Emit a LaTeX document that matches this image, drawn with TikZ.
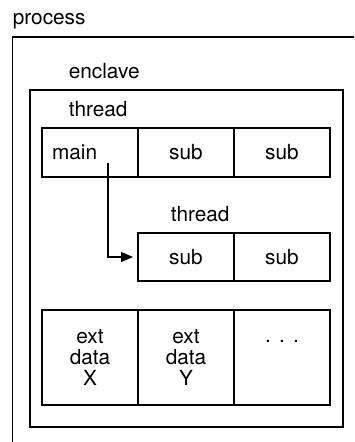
\documentclass[tikz,border=0pt]{standalone}
\usepackage{fontspec}
\setmainfont{TeX Gyre Heros}
\usetikzlibrary{arrows.meta, positioning}

\tikzset{
  cell/.style={draw, rectangle, outer sep=0pt, inner sep=0pt,
    minimum width=48pt, minimum height=24.5pt, align=center},
  tall/.style={cell, minimum height=47.5pt},
  tag/.style={anchor=base west, inner sep=0pt},
}

\begin{document}
\begin{tikzpicture}[x=0.5pt, y=-0.5pt, line width=0.8pt,
    font=\fontsize{10.4}{10.5}\selectfont]
        \useasboundingbox (0,0) rectangle (354,442);

        % process: runs off the page on the right and at the bottom
        \node[tag] (process) at (12,25) {process};
        \begin{scope}
          \clip (0,0) rectangle (354,442);
          \draw (12.5,37) rectangle (400,500);
        \end{scope}

        % enclave
        \node[tag] (enclave) at (68,79) {enclave};
        \draw (30,90) rectangle (343,427);

        % first thread
        \node[tag] (thread1) at (68,117) {thread};
        \node[cell, anchor=north west, text width=38pt, inner xsep=5pt, align=left] (main) at (42,128) {main};
        \node[cell, right=0pt of main] (sub1) {sub};
        \node[cell, right=0pt of sub1] (sub2) {sub};

        % second thread
        \node[tag] (thread2) at (170,221) {thread};
        \node[cell, minimum height=24pt, anchor=north west] (sub3) at (138,233) {sub};
        \node[cell, minimum height=24pt, right=0pt of sub3] (sub4) {sub};

        \coordinate (fork) at (108,163);
        \draw[-{Triangle[length=6pt, width=5pt]}, shorten >=2.5pt] (fork) |- (sub3.west);

        % external data
        \node[tall, anchor=north west] (extx) at (42,310) {ext\\data\\X};
        \node[tall, right=0pt of extx] (exty) {ext\\data\\Y};
        \node[tall, right=0pt of exty] (more) {};
        \node[anchor=base, inner sep=0pt] (dots) at ([yshift=-16pt]more.north)
          {.\hspace{0.4em}.\hspace{0.4em}.};
    \end{tikzpicture}
\end{document}
